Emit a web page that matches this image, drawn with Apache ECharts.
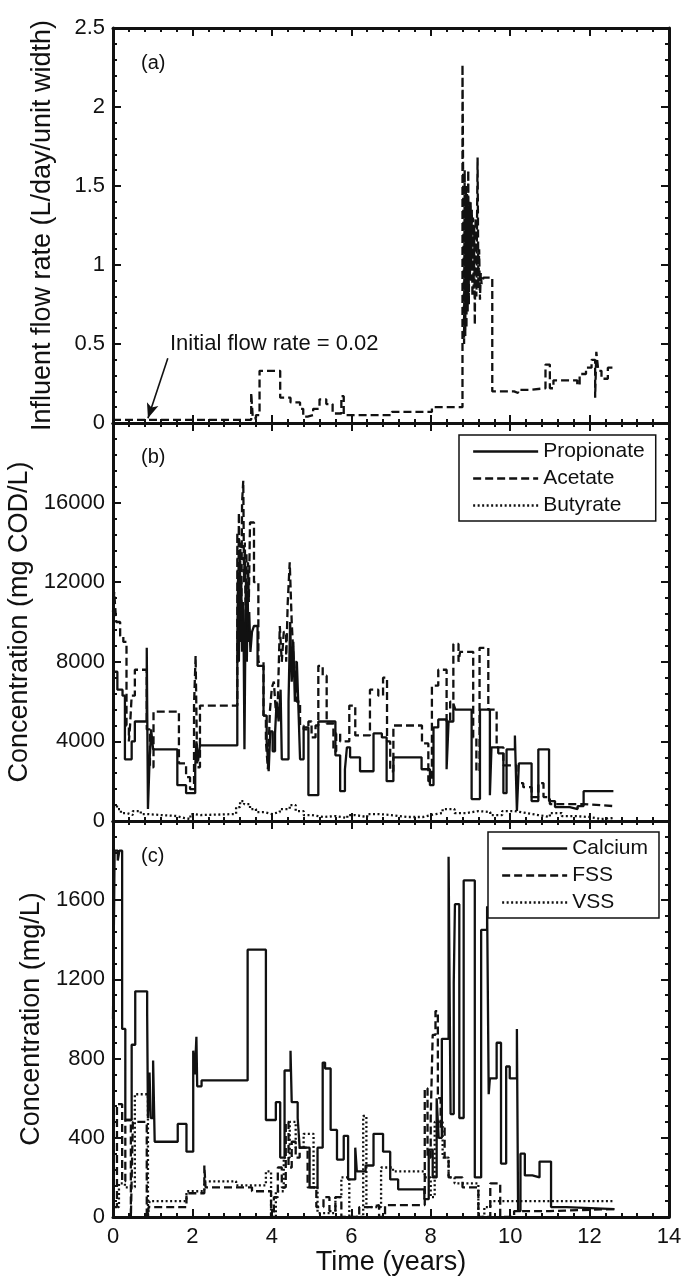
<!DOCTYPE html>
<html>
<head>
<meta charset="utf-8">
<script src="https://cdn.jsdelivr.net/npm/echarts@6/dist/echarts.min.js"></script>
<style>
html,body{margin:0;padding:0;background:#fff;}
#chart{width:681px;height:1278px;}
</style>
</head>
<body>
<div id="chart"></div>
<script>
// ---- Data (time in years, value) ----
const flowRate = [[0,0.02],[3.48,0.19],[3.52,0.03],[3.6,0.05],[3.69,0.33],[4.21,0.16],[4.47,0.13],[4.71,0.09],[4.79,0.04],[4.9,0.05],[5.04,0.09],[5.2,0.15],[5.37,0.12],[5.53,0.06],[5.75,0.17],[5.81,0.05],[7.02,0.07],[8.03,0.1],[8.8,2.27],[8.84,0.5],[8.855,1.6],[8.87,0.55],[8.885,1.5],[8.9,0.6],[8.915,1.45],[8.93,0.7],[8.945,1.6],[8.96,0.75],[8.975,1.4],[8.99,0.9],[9.005,1.4],[9.02,1.0],[9.035,1.35],[9.05,0.8],[9.065,1.3],[9.08,0.85],[9.095,1.25],[9.11,0.62],[9.13,1.3],[9.15,0.8],[9.18,1.68],[9.2,0.85],[9.22,1.1],[9.24,0.78],[9.26,0.95],[9.28,0.88],[9.33,0.92],[9.55,0.2],[10.1,0.19],[10.2,0.21],[10.5,0.22],[10.89,0.37],[11.0,0.22],[11.09,0.27],[11.69,0.24],[11.75,0.31],[11.91,0.35],[12.05,0.4],[12.14,0.16],[12.17,0.45],[12.22,0.33],[12.3,0.28],[12.46,0.35],[12.63,0.35]];

const propionate = [[0,7500],[0.11,6600],[0.24,6300],[0.3,3100],[0.47,4000],[0.55,5000],[0.85,8700],[0.88,600],[0.92,3000],[0.96,4600],[1.01,3600],[1.62,1800],[1.84,1400],[2.07,2700],[2.1,4000],[2.14,3000],[2.19,3800],[3.13,9000],[3.15,12500],[3.17,8000],[3.19,13500],[3.21,9000],[3.23,12000],[3.25,8500],[3.27,11000],[3.29,9000],[3.31,3600],[3.33,8500],[3.35,12000],[3.37,8000],[3.39,11500],[3.41,9000],[3.43,10500],[3.46,8500],[3.5,9500],[3.55,9800],[3.64,7800],[3.79,5300],[3.87,4000],[3.92,2500],[3.96,4500],[4.02,3500],[4.08,4400],[4.12,6000],[4.17,5000],[4.22,6600],[4.25,3100],[4.42,6000],[4.46,10000],[4.5,7000],[4.54,9000],[4.58,6000],[4.63,8000],[4.68,5000],[4.71,3100],[4.8,4700],[4.92,1300],[5.17,5000],[5.6,3300],[5.72,1500],[5.84,2600],[5.89,3700],[5.97,3200],[6.22,2500],[6.56,4400],[6.77,4200],[6.89,2000],[7.06,3200],[7.77,2600],[7.98,1800],[8.07,4700],[8.19,5100],[8.4,2600],[8.45,5000],[8.57,5900],[8.62,5600],[9.03,1100],[9.24,5600],[9.49,1300],[9.53,3700],[9.7,3400],[9.83,1400],[9.91,3600],[10.12,4300],[10.17,500],[10.22,2900],[10.54,1000],[10.71,3600],[10.98,1000],[11.13,700],[11.5,600],[11.7,750],[11.85,1500],[12.6,1500]];

const acetate = [[0,10500],[0.03,11500],[0.08,10000],[0.18,9300],[0.26,9000],[0.34,4800],[0.4,4000],[0.43,4800],[0.47,6300],[0.55,7600],[0.85,4600],[0.93,2700],[1.02,5500],[1.66,2900],[1.84,2200],[1.94,1600],[2.04,5800],[2.08,8300],[2.12,2700],[2.19,5800],[3.13,14500],[3.15,9000],[3.17,15500],[3.19,11000],[3.21,14000],[3.23,10000],[3.25,16000],[3.28,17100],[3.3,12000],[3.32,14000],[3.34,10000],[3.36,13500],[3.38,9500],[3.4,13000],[3.42,11000],[3.45,15000],[3.55,12000],[3.66,8000],[3.79,5300],[3.85,4000],[3.9,2600],[3.95,5500],[4.0,6700],[4.05,7000],[4.1,5500],[4.15,6000],[4.2,9800],[4.25,8000],[4.3,9500],[4.36,8000],[4.4,11000],[4.45,13000],[4.5,10000],[4.55,8000],[4.62,6000],[4.71,4800],[4.8,4600],[4.92,5000],[5.0,4200],[5.1,4800],[5.17,7800],[5.28,7300],[5.38,4900],[5.55,3500],[5.62,4400],[5.72,4000],[5.95,5800],[6.1,4300],[6.47,6600],[6.68,6300],[6.8,7200],[6.9,4000],[6.98,2500],[7.06,4800],[7.78,3900],[7.94,2000],[8.03,6800],[8.19,7600],[8.4,5000],[8.49,6000],[8.57,8900],[8.7,8000],[8.74,8500],[9.07,4200],[9.15,2500],[9.23,8700],[9.45,5600],[9.66,3700],[9.83,2800],[10.16,1900],[10.33,1700],[10.54,1200],[10.71,1900],[10.84,1200],[11.0,850],[11.85,750],[12.6,750]];

const butyrate = [[0,800],[0.1,600],[0.2,400],[0.35,300],[0.5,500],[0.7,350],[0.85,300],[1.2,250],[1.6,150],[1.8,100],[1.95,350],[2.05,300],[2.2,350],[3.1,700],[3.2,1000],[3.3,850],[3.45,600],[3.6,450],[3.8,350],[4.0,450],[4.2,600],[4.45,800],[4.6,500],[4.8,300],[5.0,200],[5.3,250],[5.6,150],[5.9,300],[6.1,200],[6.4,350],[6.7,300],[7.0,200],[7.4,200],[7.8,300],[8.0,400],[8.3,600],[8.6,400],[8.9,500],[9.2,450],[9.5,300],[9.8,500],[10.1,400],[10.4,300],[10.7,200],[11.0,400],[11.3,250],[11.6,200],[12.0,100],[12.3,150],[12.6,150]];

const calcium = [[0,1000],[0.04,1850],[0.12,1800],[0.16,1850],[0.23,950],[0.31,490],[0.47,870],[0.56,1140],[0.86,1030],[0.88,500],[0.92,730],[0.95,500],[1.01,790],[1.05,380],[1.63,470],[1.85,330],[2.02,840],[2.06,720],[2.1,910],[2.12,660],[2.23,690],[3.39,1350],[3.85,490],[4.1,580],[4.21,300],[4.32,740],[4.47,840],[4.5,580],[4.65,500],[4.7,350],[4.95,150],[5.15,350],[5.28,780],[5.34,750],[5.48,440],[5.64,290],[5.81,410],[5.92,190],[6.1,350],[6.14,230],[6.36,260],[6.56,420],[6.8,330],[6.98,190],[7.18,140],[7.84,90],[7.95,340],[8.05,200],[8.15,600],[8.2,400],[8.28,900],[8.45,1820],[8.5,520],[8.58,1180],[8.61,1580],[8.72,500],[8.83,1700],[9.11,200],[9.27,1450],[9.42,1570],[9.46,620],[9.49,700],[9.66,880],[9.77,270],[9.9,760],[9.99,700],[10.17,950],[10.2,30],[10.26,320],[10.37,210],[10.56,200],[10.74,280],[11.03,50],[11.42,40],[12.63,40]];

const fss = [[0,50],[0.1,570],[0.23,180],[0.31,490],[0.45,0],[0.5,480],[0.85,0],[0.9,50],[1.85,120],[2.3,260],[2.33,150],[3.5,130],[3.98,0],[4.05,100],[4.15,250],[4.25,150],[4.35,480],[4.42,250],[4.5,380],[4.6,300],[4.7,350],[4.9,150],[5.12,50],[5.3,100],[5.45,30],[5.6,100],[5.75,0],[6.2,50],[6.5,60],[6.7,0],[6.85,60],[7.85,650],[7.92,300],[8.0,500],[8.05,920],[8.12,1040],[8.18,600],[8.25,450],[8.35,300],[8.45,200],[8.8,150],[9.2,0],[9.5,170],[9.75,0],[10.1,30],[11.0,40],[12.63,40]];

const vss = [[0,50],[0.15,170],[0.3,150],[0.55,620],[0.88,0],[0.92,80],[1.85,130],[2.3,180],[3.1,160],[3.85,230],[3.98,0],[4.1,130],[4.3,300],[4.45,480],[4.6,350],[4.8,420],[5.05,150],[5.15,20],[5.6,100],[5.75,200],[5.95,0],[6.3,510],[6.38,50],[6.75,250],[7.05,230],[7.85,200],[8.0,100],[8.1,480],[8.3,300],[8.45,200],[8.6,170],[9.2,0],[9.35,50],[9.5,80],[12.63,80]];

const xTicks = {min: 0, max: 14, interval: 2};
const yRanges = [{max: 2.5, interval: 0.5}, {max: 20000, interval: 4000}, {max: 2000, interval: 400}];
const yNames = ['Influent flow rate (L/day/unit width)', 'Concentration (mg COD/L)', 'Concentration (mg/L)'];
const panelLabels = ['(a)', '(b)', '(c)'];

// ---- Layout ----
const FONT = 'Liberation Sans, Arial, Helvetica, sans-serif';
const TICKFONT = 'Liberation Sans Narrow, Arial Narrow, Liberation Sans, sans-serif';
const grids = [
  {left: 113, width: 556, top: 28, height: 395},
  {left: 113, width: 556, top: 423, height: 398},
  {left: 113, width: 556, top: 821, height: 396}
];

const DASH = [8, 4];
const DOT = [2, 2.5];

function axisCommon() {
  return {
    axisLine: {show: true, onZero: false, lineStyle: {color: '#111', width: 3}},
    axisTick: {show: true, inside: true, length: 8, lineStyle: {color: '#111', width: 2}},
    minorTick: {show: true, splitNumber: 5, length: 4, lineStyle: {color: '#111', width: 2}},
    splitLine: {show: false},
    minorSplitLine: {show: false}
  };
}
const plainNum = v => String(v);

const xAxis = [], yAxis = [];
grids.forEach((g, i) => {
  xAxis.push(Object.assign(axisCommon(), {
    type: 'value', gridIndex: i, position: 'bottom', min: xTicks.min, max: xTicks.max, interval: xTicks.interval,
    axisLabel: {show: i === 2, color: '#111', fontFamily: TICKFONT, fontSize: 22, margin: 9, formatter: plainNum},
    name: i === 2 ? 'Time (years)' : '', nameLocation: 'middle', nameGap: 25,
    nameTextStyle: {color: '#111', fontFamily: FONT, fontSize: 27}
  }));
  xAxis.push(Object.assign(axisCommon(), {
    type: 'value', gridIndex: i, position: 'top', min: xTicks.min, max: xTicks.max, interval: xTicks.interval,
    axisLabel: {show: false}
  }));
  yAxis.push(Object.assign(axisCommon(), {
    type: 'value', gridIndex: i, position: 'left', min: 0, max: yRanges[i].max, interval: yRanges[i].interval,
    axisLabel: {show: true, color: '#111', fontFamily: TICKFONT, fontSize: 22, margin: 8, showMaxLabel: i === 0, formatter: plainNum},
    name: yNames[i], nameLocation: 'middle', nameGap: 57,
    nameTextStyle: {color: '#111', fontFamily: FONT, fontSize: 27}
  }));
  yAxis.push(Object.assign(axisCommon(), {
    type: 'value', gridIndex: i, position: 'right', min: 0, max: yRanges[i].max, interval: yRanges[i].interval,
    axisLabel: {show: false}
  }));
});

function stepSeries(name, data, gi, type) {
  return {
    name: name, type: 'line', step: 'end', data: data,
    xAxisIndex: gi * 2, yAxisIndex: gi * 2,
    symbol: 'none', showSymbol: false, silent: true, clip: true,
    lineStyle: {color: '#111', width: 2.3, type: type},
    itemStyle: {color: '#111'}
  };
}

const series = [
  Object.assign(stepSeries('Flow rate', flowRate, 0, DASH), {
    markLine: {
      silent: true, symbol: ['none', 'arrow'], symbolSize: [9, 15],
      lineStyle: {color: '#111', width: 1.6, type: 'solid'},
      label: {show: false},
      data: [[{coord: [1.38, 0.41]}, {coord: [0.88, 0.03]}]]
    }
  }),
  stepSeries('Propionate', propionate, 1, 'solid'),
  stepSeries('Acetate', acetate, 1, DASH),
  stepSeries('Butyrate', butyrate, 1, DOT),
  stepSeries('Calcium', calcium, 2, 'solid'),
  stepSeries('FSS', fss, 2, DASH),
  stepSeries('VSS', vss, 2, DOT)
];

function legendBox(names, left, top) {
  return {
    data: names, orient: 'vertical', left: left, top: top,
    itemWidth: 65, itemHeight: 14, itemGap: 6,
    padding: [6, 11, 5, 13],
    backgroundColor: '#fff', borderColor: '#111', borderWidth: 1.5, borderRadius: 0,
    itemStyle: {opacity: 0, color: 'rgba(0,0,0,0)', borderWidth: 0},
    lineStyle: {width: 2.3},
    textStyle: {color: '#111', fontFamily: FONT, fontSize: 21},
    selectedMode: false
  };
}

const chart = echarts.init(document.getElementById('chart'), null, {renderer: 'canvas'});
chart.setOption({
  animation: false,
  backgroundColor: '#fff',
  grid: grids.map(g => Object.assign({outerBoundsMode: 'none', containLabel: false}, g)),
  xAxis: xAxis,
  yAxis: yAxis,
  legend: [
    legendBox(['Propionate', 'Acetate', 'Butyrate'], 459, 435),
    legendBox(['Calcium', 'FSS', 'VSS'], 488, 832)
  ],
  series: series,
  graphic: [
    {type: 'text', left: 141, top: 53, style: {text: panelLabels[0], font: '20px ' + FONT, fill: '#111'}},
    {type: 'text', left: 141, top: 447, style: {text: panelLabels[1], font: '20px ' + FONT, fill: '#111'}},
    {type: 'text', left: 141, top: 846, style: {text: panelLabels[2], font: '20px ' + FONT, fill: '#111'}},
    {type: 'text', left: 170, top: 333, style: {text: 'Initial flow rate = 0.02', font: '22px ' + FONT, fill: '#111'}}
  ]
});
</script>
</body>
</html>
